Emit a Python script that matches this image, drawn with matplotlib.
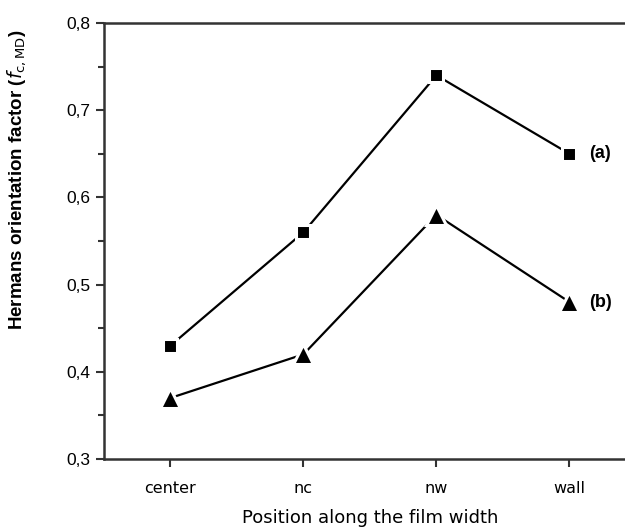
import matplotlib.pyplot as plt
from matplotlib.ticker import MultipleLocator, FuncFormatter

# positions across the film and the two orientation-factor series
positions = ["center", "nc", "nw", "wall"]
series_a = [0.43, 0.56, 0.74, 0.65]
series_b = [0.37, 0.42, 0.58, 0.48]

plt.rcParams['font.family'] = ['Liberation Sans', 'DejaVu Sans']

fig = plt.figure(figsize=(6.25, 5.3), dpi=100)
ax = fig.add_axes([0.1664, 0.134, 0.851, 0.8226])

x = list(range(1, len(positions) + 1))
ax.plot(x, series_a, color="black", lw=1.6, marker="s", ms=10.5,
        mfc="black", mec="white", mew=2.2)
ax.plot(x, series_b, color="black", lw=1.6, marker="^", ms=14.5,
        mfc="black", mec="white", mew=2.2)

ax.annotate("(a)", (x[-1], series_a[-1]), xytext=(14, 0), textcoords="offset points",
            va="center", ha="left", fontweight="bold", fontsize=13)
ax.annotate("(b)", (x[-1], series_b[-1]), xytext=(14, 0), textcoords="offset points",
            va="center", ha="left", fontweight="bold", fontsize=13)

ax.set_xlim(0.5, 4.5)
ax.set_ylim(0.3, 0.8)
ax.set_xticks(x)
ax.set_xticklabels(positions, fontsize=11.5, family="DejaVu Sans")
ax.yaxis.set_major_locator(MultipleLocator(0.1))
ax.yaxis.set_minor_locator(MultipleLocator(0.05))
ax.yaxis.set_major_formatter(FuncFormatter(lambda v, p: f"{v:.1f}".replace(".", ",")))
ax.tick_params(axis="both", direction="out", width=1.5, length=6, color="#333333")
ax.tick_params(axis="y", labelsize=12.5)
ax.tick_params(axis="y", which="minor", direction="out", width=1.5, length=4, color="#333333")
ax.tick_params(axis="x", pad=10)

for s in ax.spines.values():
    s.set_linewidth(1.8)
    s.set_color("#333333")

ax.set_xlabel("Position along the film width", fontsize=13, family="DejaVu Sans", labelpad=9)
ax.set_ylabel(r"Hermans orientation factor ($\mathit{f}_{\mathrm{c,MD}}$)",
              fontsize=13.5, fontweight="bold")
ax.yaxis.set_label_coords(-0.143, 0.64)

fig.savefig("out.png", dpi=100)
